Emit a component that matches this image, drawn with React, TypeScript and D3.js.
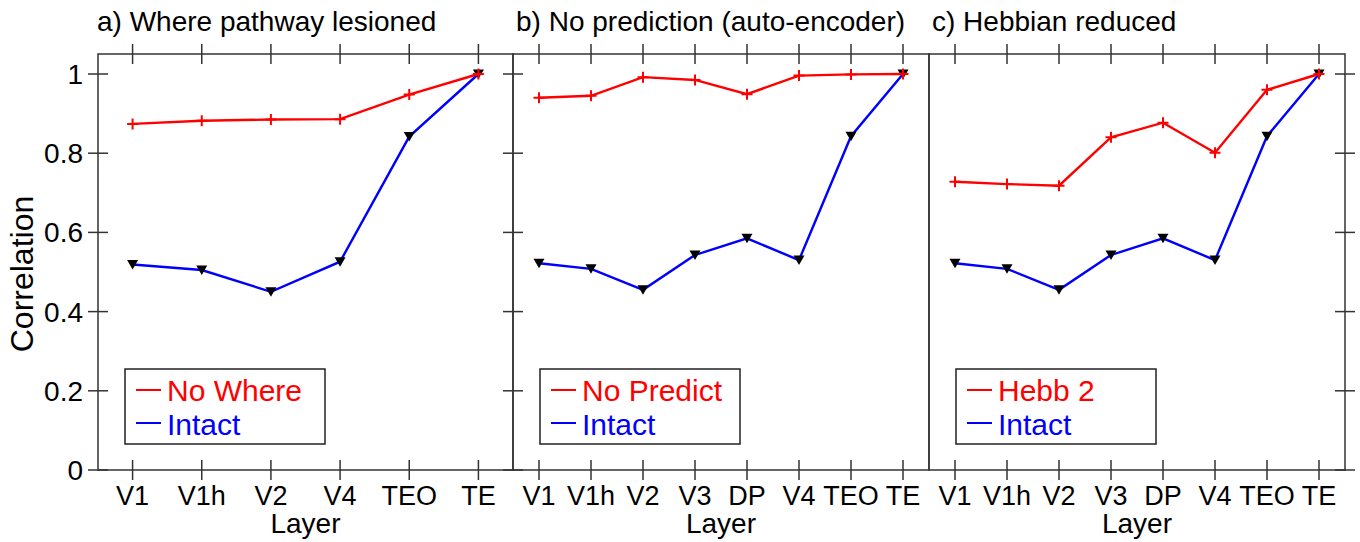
import { useEffect, useRef } from "react";
import * as d3 from "d3";

// layer names for each panel
const layersA = ["V1", "V1h", "V2", "V4", "TEO", "TE"];
const layersBC = ["V1", "V1h", "V2", "V3", "DP", "V4", "TEO", "TE"];

// values
const noWhere = [0.874, 0.882, 0.885, 0.886, 0.948, 1.0];
const intactA = [0.519, 0.505, 0.45, 0.526, 0.842, 1.0];
const noPredict = [0.94, 0.945, 0.992, 0.985, 0.949, 0.996, 0.999, 1.0];
const intactB = [0.522, 0.508, 0.455, 0.543, 0.585, 0.53, 0.843, 1.0];
const hebb2 = [0.728, 0.722, 0.718, 0.84, 0.877, 0.801, 0.96, 1.0];
const intactC = [0.522, 0.508, 0.455, 0.543, 0.585, 0.53, 0.843, 1.0];

const yTicks = [0, 0.2, 0.4, 0.6, 0.8, 1];

const panels = [
  { title: "a) Where pathway lesioned", layers: layersA, red: noWhere, blue: intactA, label: "No Where", x0: 98, x1: 513, leftTicks: true, rightTicks: true },
  { title: "b) No prediction (auto-encoder)", layers: layersBC, red: noPredict, blue: intactB, label: "No Predict", x0: 513, x1: 929, leftTicks: false, rightTicks: false },
  { title: "c) Hebbian reduced", layers: layersBC, red: hebb2, blue: intactC, label: "Hebb 2", x0: 929, x1: 1345, leftTicks: false, rightTicks: true },
];

const App = () => {
  const ref = useRef(null);

  useEffect(() => {
    const width = 1360;
    const height = 542;
    const top = 54;
    const bottom = 470;
    const font = "'Liberation Sans', Arial, sans-serif";
    const axisColor = "#333";

    const root = d3.select(ref.current);
    root.selectAll("*").remove();
    const svg = root
      .append("svg")
      .attr("width", width)
      .attr("height", height)
      .style("display", "block")
      .style("font-family", font);

    svg.append("rect").attr("width", width).attr("height", height).attr("fill", "white");

    const y = d3.scaleLinear().domain([0, 1]).range([bottom, 74]);

    // y label
    svg
      .append("text")
      .attr("transform", `translate(33, 274) rotate(-90)`)
      .attr("text-anchor", "middle")
      .attr("font-size", 32)
      .text("Correlation");

    // y tick labels (left side of panel a only)
    svg
      .append("g")
      .selectAll("text")
      .data(yTicks)
      .join("text")
      .attr("x", 83)
      .attr("y", (d) => y(d) + 10)
      .attr("text-anchor", "end")
      .attr("font-size", 28)
      .text((d) => d3.format("~g")(d));

    panels.forEach((p) => {
      const x = d3.scalePoint().domain(p.layers).range([p.x0, p.x1]).padding(0.5);
      const g = svg.append("g");

      // frame
      g.append("rect")
        .attr("x", p.x0)
        .attr("y", top)
        .attr("width", p.x1 - p.x0)
        .attr("height", bottom - top)
        .attr("fill", "none")
        .attr("stroke", axisColor)
        .attr("stroke-width", 1.5);

      // x ticks top and bottom, crossing the axis
      [top, bottom].forEach((yy) => {
        g.append("g")
          .selectAll("line")
          .data(p.layers)
          .join("line")
          .attr("x1", (d) => x(d))
          .attr("x2", (d) => x(d))
          .attr("y1", yy - 10)
          .attr("y2", yy + 10)
          .attr("stroke", axisColor)
          .attr("stroke-width", 1.5);
      });

      // y ticks
      const sides = [];
      if (p.leftTicks) sides.push(p.x0);
      if (p.rightTicks) sides.push(p.x1);
      sides.forEach((xx) => {
        g.append("g")
          .selectAll("line")
          .data(yTicks)
          .join("line")
          .attr("x1", xx - 10)
          .attr("x2", xx + 10)
          .attr("y1", (d) => y(d))
          .attr("y2", (d) => y(d))
          .attr("stroke", axisColor)
          .attr("stroke-width", 1.5);
      });

      // x tick labels
      g.append("g")
        .selectAll("text")
        .data(p.layers)
        .join("text")
        .attr("x", (d) => x(d))
        .attr("y", 505)
        .attr("text-anchor", "middle")
        .attr("font-size", 27)
        .text((d) => d);

      g.append("text")
        .attr("x", (p.x0 + p.x1) / 2)
        .attr("y", 533)
        .attr("text-anchor", "middle")
        .attr("font-size", 28)
        .text("Layer");

      // title
      g.append("text")
        .attr("x", p.x0 === 98 ? 97 : p.x0 + 3)
        .attr("y", 31)
        .attr("font-size", 28)
        .text(p.title);

      const line = d3
        .line<number>()
        .x((_, i) => x(p.layers[i]))
        .y((d) => y(d));

      // blue line with black triangles
      g.append("path")
        .attr("d", line(p.blue))
        .attr("fill", "none")
        .attr("stroke", "#0000ff")
        .attr("stroke-width", 2.4);

      g.append("g")
        .selectAll("path")
        .data(p.blue)
        .join("path")
        .attr("transform", (d, i) => `translate(${x(p.layers[i])},${y(d)})`)
        .attr("d", "M-5.5,-4.5 L5.5,-4.5 L0,5 Z")
        .attr("fill", "black");

      // red line with plus markers
      g.append("path")
        .attr("d", line(p.red))
        .attr("fill", "none")
        .attr("stroke", "#ff0000")
        .attr("stroke-width", 2.4);

      g.append("g")
        .selectAll("path")
        .data(p.red)
        .join("path")
        .attr("transform", (d, i) => `translate(${x(p.layers[i])},${y(d)})`)
        .attr("d", "M-5.5,0 L5.5,0 M0,-5.5 L0,5.5")
        .attr("stroke", "#ff0000")
        .attr("stroke-width", 2);

      // legend
      const lx = p.x0 + 27;
      const ly = 369;
      const lg = g.append("g").attr("transform", `translate(${lx},${ly})`);
      lg.append("rect")
        .attr("width", 200)
        .attr("height", 75)
        .attr("fill", "white")
        .attr("stroke", "#222")
        .attr("stroke-width", 1.5);
      [
        { text: p.label, color: "#ff0000", yy: 21, base: 32 },
        { text: "Intact", color: "#0000ff", yy: 54, base: 66 },
      ].forEach((it) => {
        lg.append("line")
          .attr("x1", 11)
          .attr("x2", 36)
          .attr("y1", it.yy)
          .attr("y2", it.yy)
          .attr("stroke", it.color)
          .attr("stroke-width", 2);
        lg.append("text")
          .attr("x", 42)
          .attr("y", it.base)
          .attr("font-size", 30)
          .attr("fill", it.color)
          .text(it.text);
      });
    });
  }, []);

  return <div ref={ref} style={{ position: "absolute", left: 0, top: 0 }} />;
};

export default App;
